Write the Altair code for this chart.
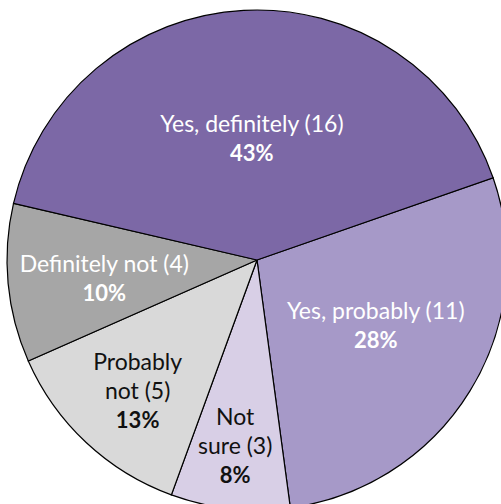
import math
import altair as alt
import pandas as pd

# Data (drawing order, clockwise from the "Yes, probably" slice)
categories = ["Yes, probably", "Not sure", "Probably not", "Definitely not", "Yes, definitely"]
counts = [11, 3, 5, 4, 16]
name_labels = ["Yes, probably (11)", "Not\nsure (3)", "Probably\nnot (5)", "Definitely not (4)", "Yes, definitely (16)"]
pct_labels = ["28%", "8%", "13%", "10%", "43%"]

# Styles / layout (kept apart from the data)
slice_colors = ["#a699c8", "#d8cfe6", "#d9d9d9", "#a6a6a6", "#7c68a6"]
text_tones = ["light", "dark", "dark", "light", "light"]
label_radius = [136, 188, 178, 154, 121]
label_nudge_deg = [-2.4, 0.5, -1.0, -2.0, 0.6]
LINE_H = 29
FONT = "Lato"
NAME_SIZE = 23
PCT_SIZE = 22

start = math.radians(70.8)
total = sum(counts)

n_lines = [n.count("\n") + 2 for n in name_labels]  # name lines + percentage line

df = pd.DataFrame({
    "cat": categories,
    "value": counts,
    "order": list(range(len(categories))),
    "name": name_labels,
    "pct": pct_labels,
    "tone": text_tones,
    "lr": label_radius,
    "nudge": label_nudge_deg,
    "nl": n_lines,
})

theta_scale = alt.Scale(domain=[0, total], range=[start, start + 2 * math.pi])

base = alt.Chart(df)

pie = base.mark_arc(outerRadius=250, stroke="#000000", strokeWidth=1.2).encode(
    theta=alt.Theta("value:Q", stack=True, scale=theta_scale),
    order=alt.Order("order:Q", sort="ascending"),
    color=alt.Color("cat:N", scale=alt.Scale(domain=categories, range=slice_colors), legend=None),
)

text_color = alt.condition(alt.datum.tone == "light", alt.value("#ffffff"), alt.value("#111111"))

label_base = base.transform_window(
    cum="sum(value)", sort=[alt.SortField("order", order="ascending")]
).transform_calculate(
    mid=f"datum.cum - datum.value / 2 + datum.nudge * {total} / 360"
)

label_enc = dict(
    theta=alt.Theta("mid:Q", stack=None, scale=theta_scale),
    radius=alt.Radius("lr:Q", scale=None),
    color=text_color,
)

layers = [pie]
for k in sorted(set(n_lines)):
    top = -(k - 1) / 2 * LINE_H
    sub = label_base.transform_filter(alt.datum.nl == k)
    layers.append(
        sub.mark_text(font=FONT, fontSize=NAME_SIZE, lineBreak="\n", lineHeight=LINE_H,
                      align="center", baseline="middle", dy=top).encode(text="name:N", **label_enc)
    )
    layers.append(
        sub.mark_text(font=FONT, fontSize=PCT_SIZE, fontWeight="bold",
                      align="center", baseline="middle", dy=top + (k - 1) * LINE_H).encode(text="pct:N", **label_enc)
    )

chart = alt.layer(*layers).properties(
    width=488,
    height=488,
    padding={"left": 13, "top": 16, "right": 0, "bottom": 0},
    autosize=alt.AutoSizeParams(type="none"),
    background="#ffffff",
).configure_view(stroke=None)

chart.save("out.html", embed_options={"renderer": "svg", "actions": False})
